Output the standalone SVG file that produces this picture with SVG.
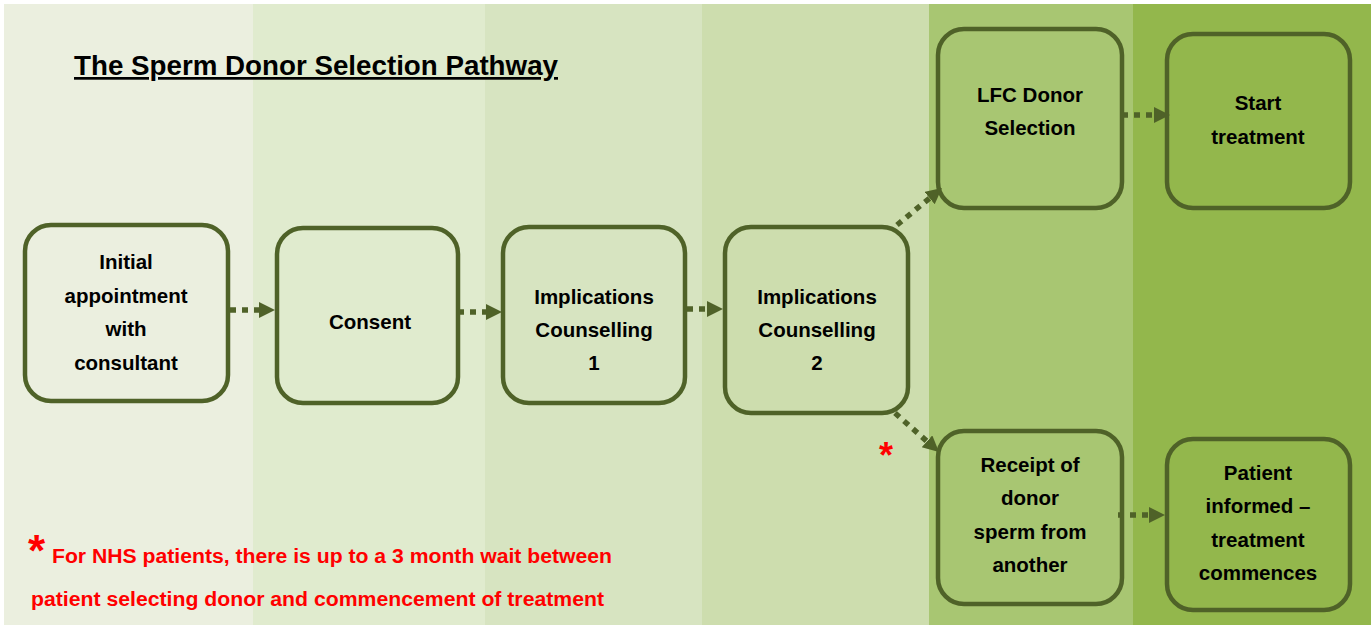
<svg xmlns="http://www.w3.org/2000/svg" width="1371" height="625" viewBox="0 0 1371 625">
<style>
.box{fill:none;stroke:#4F6228;stroke-width:4.5}
.lbl{font-family:"Liberation Sans",Arial,sans-serif;font-weight:bold;font-size:20.5px;fill:#000;text-anchor:middle}
.conn{stroke:#4F6228;stroke-width:5.5;stroke-dasharray:6 6;fill:none}
.note{font-family:"Liberation Sans",Arial,sans-serif;font-weight:bold;fill:#FF0000}
</style>
<defs>
<marker id="ah" markerUnits="userSpaceOnUse" markerWidth="18" markerHeight="18" refX="4" refY="8" orient="auto">
<path d="M0,0 L16,8 L0,16 z" fill="#4F6228"/>
</marker>
</defs>
<rect x="0" y="0" width="1371" height="625" fill="#FFFFFF"/>
<g id="bands">
<rect x="4" y="4" width="249" height="621" fill="#EBEFDF"/>
<rect x="253" y="4" width="232" height="621" fill="#E0EBCE"/>
<rect x="485" y="4" width="217" height="621" fill="#D7E4C1"/>
<rect x="702" y="4" width="227" height="621" fill="#CDDDAE"/>
<rect x="929" y="4" width="204" height="621" fill="#A8C672"/>
<rect x="1133" y="4" width="238" height="621" fill="#93B74C"/>
</g>
<text x="74" y="75" font-family="'Liberation Sans',Arial,sans-serif" font-weight="bold" font-size="27" text-decoration="underline" textLength="484" lengthAdjust="spacingAndGlyphs" fill="#000">The Sperm Donor Selection Pathway</text>
<g id="connectors">
<line class="conn" x1="230" y1="310" x2="263" y2="310" marker-end="url(#ah)"/>
<line class="conn" x1="458" y1="312" x2="490" y2="312" marker-end="url(#ah)"/>
<line class="conn" x1="687" y1="309" x2="711" y2="309" marker-end="url(#ah)"/>
<line class="conn" x1="897" y1="225" x2="932.7" y2="195.6" marker-end="url(#ah)"/>
<line class="conn" x1="895" y1="413" x2="930" y2="444" marker-end="url(#ah)"/>
<line class="conn" x1="1122" y1="115" x2="1158" y2="115" marker-end="url(#ah)"/>
<line class="conn" x1="1118" y1="515" x2="1153" y2="515" marker-end="url(#ah)"/>
</g>
<g id="node-initial">
<rect class="box" x="25" y="225" width="203" height="176" rx="26"/>
<text class="lbl" x="126" y="269">Initial</text>
<text class="lbl" x="126" y="303">appointment</text>
<text class="lbl" x="126" y="336">with</text>
<text class="lbl" x="126" y="370">consultant</text>
</g>
<g id="node-consent">
<rect class="box" x="277" y="228" width="181" height="175" rx="26"/>
<text class="lbl" x="370" y="329">Consent</text>
</g>
<g id="node-ic1">
<rect class="box" x="503" y="227" width="182" height="176" rx="26"/>
<text class="lbl" x="594" y="304">Implications</text>
<text class="lbl" x="594" y="337">Counselling</text>
<text class="lbl" x="594" y="370">1</text>
</g>
<g id="node-ic2">
<rect class="box" x="725" y="227" width="183" height="186" rx="26"/>
<text class="lbl" x="817" y="304">Implications</text>
<text class="lbl" x="817" y="337">Counselling</text>
<text class="lbl" x="817" y="370">2</text>
</g>
<g id="node-lfc">
<rect class="box" x="938" y="29" width="184" height="179" rx="26"/>
<text class="lbl" x="1030" y="102">LFC Donor</text>
<text class="lbl" x="1030" y="135">Selection</text>
</g>
<g id="node-start">
<rect class="box" x="1167" y="34" width="183" height="174" rx="26"/>
<text class="lbl" x="1258" y="110">Start</text>
<text class="lbl" x="1258" y="144">treatment</text>
</g>
<g id="node-receipt">
<rect class="box" x="938" y="431" width="184" height="173" rx="26"/>
<text class="lbl" x="1030" y="472">Receipt of</text>
<text class="lbl" x="1030" y="505">donor</text>
<text class="lbl" x="1030" y="539">sperm from</text>
<text class="lbl" x="1030" y="572">another</text>
</g>
<g id="node-patient">
<rect class="box" x="1167" y="439" width="183" height="171" rx="26"/>
<text class="lbl" x="1258" y="480">Patient</text>
<text class="lbl" x="1258" y="513">informed –</text>
<text class="lbl" x="1258" y="547">treatment</text>
<text class="lbl" x="1258" y="580">commences</text>
</g>
<text class="note" x="886" y="468" font-size="36" text-anchor="middle">*</text>
<text class="note" x="28" y="566" font-size="44">*</text>
<text class="note" x="52" y="563" font-size="20" textLength="560" lengthAdjust="spacingAndGlyphs">For NHS patients, there is up to a 3 month wait between</text>
<text class="note" x="31" y="606" font-size="20" textLength="573" lengthAdjust="spacingAndGlyphs">patient selecting donor and commencement of treatment</text>
</svg>
